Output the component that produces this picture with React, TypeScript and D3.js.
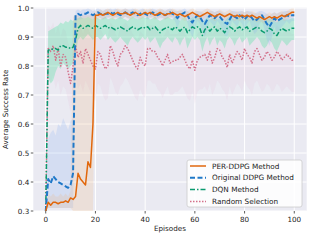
import React from 'react'
import * as d3 from 'd3'

const episodes = d3.range(0, 101)

const perMean = [0.30, 0.33, 0.32, 0.33, 0.33, 0.325, 0.33, 0.33, 0.335, 0.33, 0.345, 0.34, 0.35, 0.43, 0.41, 0.40, 0.39, 0.47, 0.45, 0.60, 0.975,
  0.975, 0.98, 0.975, 0.98, 0.985, 0.98, 0.975, 0.98, 0.985, 0.98, 0.98, 0.985, 0.98, 0.975, 0.98, 0.985, 0.98, 0.975, 0.98, 0.985,
  0.98, 0.985, 0.98, 0.975, 0.98, 0.985, 0.98, 0.975, 0.98, 0.98, 0.985, 0.98, 0.975, 0.98, 0.975, 0.97, 0.975, 0.98, 0.985, 0.98,
  0.975, 0.97, 0.975, 0.98, 0.985, 0.98, 0.975, 0.97, 0.975, 0.98, 0.975, 0.97, 0.975, 0.98, 0.975, 0.97, 0.975, 0.97, 0.975, 0.97,
  0.975, 0.97, 0.975, 0.97, 0.965, 0.97, 0.965, 0.96, 0.965, 0.97, 0.965, 0.97, 0.965, 0.97, 0.975, 0.97, 0.975, 0.98, 0.985, 0.985]
const perLow = [0.30, 0.31, 0.31, 0.31, 0.31, 0.31, 0.31, 0.31, 0.31, 0.31, 0.31, 0.30, 0.30, 0.30, 0.30, 0.30, 0.30, 0.30, 0.30, 0.30, 0.96,
  0.96, 0.965, 0.96, 0.965, 0.97, 0.965, 0.96, 0.965, 0.97, 0.965, 0.965, 0.97, 0.965, 0.96, 0.965, 0.97, 0.965, 0.96, 0.965, 0.97,
  0.965, 0.97, 0.965, 0.96, 0.965, 0.97, 0.965, 0.96, 0.965, 0.965, 0.97, 0.965, 0.96, 0.965, 0.96, 0.955, 0.96, 0.965, 0.97, 0.965,
  0.96, 0.955, 0.96, 0.965, 0.97, 0.965, 0.96, 0.955, 0.96, 0.965, 0.96, 0.955, 0.96, 0.965, 0.96, 0.955, 0.96, 0.955, 0.96, 0.955,
  0.96, 0.955, 0.96, 0.955, 0.95, 0.955, 0.95, 0.945, 0.95, 0.955, 0.95, 0.955, 0.95, 0.955, 0.96, 0.955, 0.96, 0.965, 0.97, 0.97]
const perHigh = [0.30, 0.36, 0.35, 0.36, 0.35, 0.35, 0.36, 0.35, 0.36, 0.35, 0.37, 0.97, 0.975, 0.975, 0.975, 0.975, 0.975, 0.975, 0.975, 0.98, 0.99,
  0.99, 0.995, 0.99, 0.995, 0.998, 0.995, 0.99, 0.995, 0.998, 0.995, 0.995, 0.998, 0.995, 0.99, 0.995, 0.998, 0.995, 0.99, 0.995, 0.998,
  0.995, 0.998, 0.995, 0.99, 0.995, 0.998, 0.995, 0.99, 0.995, 0.995, 0.998, 0.995, 0.99, 0.995, 0.99, 0.985, 0.99, 0.995, 0.998, 0.995,
  0.99, 0.985, 0.99, 0.995, 0.998, 0.995, 0.99, 0.985, 0.99, 0.995, 0.99, 0.985, 0.99, 0.995, 0.99, 0.985, 0.99, 0.985, 0.99, 0.985,
  0.99, 0.985, 0.99, 0.985, 0.98, 0.985, 0.98, 0.975, 0.98, 0.985, 0.98, 0.985, 0.98, 0.985, 0.99, 0.985, 0.99, 0.995, 0.998, 0.998]

const ddpgMean = [0.30, 0.41, 0.395, 0.42, 0.41, 0.40, 0.395, 0.39, 0.385, 0.38, 0.39, 0.43, 0.975, 0.98, 0.975, 0.98, 0.98, 0.985, 0.98, 0.975, 0.98,
  0.985, 0.98, 0.975, 0.98, 0.98, 0.985, 0.98, 0.985, 0.98, 0.975, 0.98, 0.985, 0.98, 0.98, 0.985, 0.98, 0.975, 0.98, 0.985, 0.98,
  0.975, 0.98, 0.985, 0.98, 0.975, 0.98, 0.98, 0.975, 0.98, 0.985, 0.98, 0.975, 0.965, 0.975, 0.98, 0.985, 0.975, 0.96, 0.95, 0.965,
  0.975, 0.97, 0.955, 0.945, 0.96, 0.975, 0.97, 0.965, 0.975, 0.97, 0.96, 0.95, 0.945, 0.96, 0.975, 0.97, 0.965, 0.975, 0.97, 0.96,
  0.97, 0.975, 0.965, 0.955, 0.96, 0.97, 0.975, 0.96, 0.945, 0.935, 0.95, 0.965, 0.955, 0.96, 0.965, 0.97, 0.975, 0.97, 0.975, 0.975]
const ddpgLow = [0.30, 0.31, 0.31, 0.31, 0.31, 0.31, 0.31, 0.31, 0.31, 0.31, 0.31, 0.31, 0.95, 0.96, 0.96, 0.965, 0.965, 0.97, 0.965, 0.96, 0.965,
  0.97, 0.965, 0.96, 0.965, 0.965, 0.97, 0.965, 0.97, 0.965, 0.96, 0.965, 0.97, 0.965, 0.965, 0.97, 0.965, 0.96, 0.965, 0.97, 0.965,
  0.96, 0.965, 0.97, 0.965, 0.96, 0.965, 0.965, 0.96, 0.965, 0.97, 0.965, 0.955, 0.93, 0.955, 0.965, 0.97, 0.95, 0.92, 0.90, 0.93,
  0.955, 0.945, 0.92, 0.90, 0.925, 0.955, 0.945, 0.935, 0.955, 0.945, 0.925, 0.905, 0.90, 0.925, 0.955, 0.945, 0.935, 0.955, 0.945, 0.925,
  0.945, 0.955, 0.93, 0.91, 0.92, 0.945, 0.955, 0.925, 0.89, 0.87, 0.90, 0.935, 0.915, 0.925, 0.935, 0.945, 0.955, 0.945, 0.955, 0.955]
const ddpgHigh = [0.30, 0.55, 0.57, 0.58, 0.56, 0.60, 0.59, 0.62, 0.60, 0.58, 0.61, 0.62, 0.99, 0.995, 0.99, 0.995, 0.995, 0.998, 0.995, 0.99, 0.995,
  0.998, 0.995, 0.99, 0.995, 0.995, 0.998, 0.995, 0.998, 0.995, 0.99, 0.995, 0.998, 0.995, 0.995, 0.998, 0.995, 0.99, 0.995, 0.998, 0.995,
  0.99, 0.995, 0.998, 0.995, 0.99, 0.995, 0.995, 0.99, 0.995, 0.998, 0.995, 0.99, 0.99, 0.99, 0.995, 0.998, 0.99, 0.985, 0.985, 0.99,
  0.99, 0.99, 0.985, 0.98, 0.985, 0.99, 0.99, 0.985, 0.99, 0.99, 0.985, 0.98, 0.98, 0.985, 0.99, 0.99, 0.985, 0.99, 0.99, 0.985,
  0.99, 0.99, 0.985, 0.98, 0.985, 0.99, 0.99, 0.985, 0.98, 0.975, 0.98, 0.985, 0.98, 0.985, 0.985, 0.99, 0.99, 0.99, 0.99, 0.99]

const dqnMean = [0.30, 0.855, 0.855, 0.86, 0.86, 0.855, 0.87, 0.87, 0.865, 0.865, 0.86, 0.865, 0.89, 0.93, 0.94, 0.93, 0.935, 0.94, 0.935, 0.93, 0.94,
  0.935, 0.93, 0.935, 0.94, 0.93, 0.935, 0.93, 0.925, 0.93, 0.935, 0.93, 0.925, 0.92, 0.93, 0.935, 0.93, 0.925, 0.93, 0.935, 0.93,
  0.935, 0.925, 0.93, 0.935, 0.925, 0.915, 0.925, 0.93, 0.935, 0.93, 0.925, 0.935, 0.93, 0.92, 0.93, 0.935, 0.915, 0.925, 0.935, 0.93,
  0.935, 0.93, 0.905, 0.925, 0.935, 0.92, 0.93, 0.935, 0.92, 0.93, 0.925, 0.915, 0.93, 0.935, 0.93, 0.92, 0.93, 0.935, 0.925, 0.93,
  0.935, 0.92, 0.925, 0.93, 0.935, 0.93, 0.92, 0.915, 0.92, 0.93, 0.925, 0.91, 0.905, 0.92, 0.93, 0.925, 0.92, 0.925, 0.93, 0.93]
const dqnLow = [0.30, 0.76, 0.74, 0.75, 0.78, 0.80, 0.79, 0.81, 0.80, 0.79, 0.80, 0.81, 0.84, 0.89, 0.90, 0.89, 0.90, 0.91, 0.90, 0.89, 0.90,
  0.90, 0.89, 0.90, 0.91, 0.89, 0.90, 0.89, 0.88, 0.89, 0.90, 0.89, 0.88, 0.87, 0.89, 0.90, 0.89, 0.88, 0.89, 0.90, 0.89,
  0.90, 0.88, 0.89, 0.90, 0.88, 0.86, 0.88, 0.89, 0.90, 0.89, 0.88, 0.90, 0.89, 0.87, 0.89, 0.90, 0.86, 0.88, 0.90, 0.89,
  0.90, 0.89, 0.85, 0.88, 0.90, 0.87, 0.89, 0.90, 0.87, 0.89, 0.88, 0.86, 0.89, 0.90, 0.89, 0.87, 0.89, 0.90, 0.88, 0.89,
  0.90, 0.87, 0.88, 0.89, 0.90, 0.89, 0.87, 0.86, 0.87, 0.89, 0.88, 0.86, 0.85, 0.87, 0.89, 0.88, 0.87, 0.88, 0.89, 0.89]
const dqnHigh = [0.30, 0.92, 0.925, 0.93, 0.935, 0.94, 0.95, 0.945, 0.955, 0.95, 0.96, 0.955, 0.965, 0.965, 0.97, 0.965, 0.965, 0.97, 0.965, 0.96, 0.97,
  0.965, 0.96, 0.965, 0.97, 0.96, 0.965, 0.965, 0.96, 0.965, 0.97, 0.965, 0.96, 0.955, 0.965, 0.97, 0.965, 0.96, 0.965, 0.97, 0.965,
  0.97, 0.96, 0.965, 0.97, 0.96, 0.955, 0.96, 0.965, 0.97, 0.965, 0.96, 0.97, 0.965, 0.955, 0.965, 0.97, 0.955, 0.96, 0.97, 0.965,
  0.97, 0.965, 0.95, 0.96, 0.97, 0.96, 0.965, 0.97, 0.96, 0.965, 0.96, 0.955, 0.965, 0.97, 0.965, 0.96, 0.965, 0.97, 0.96, 0.965,
  0.97, 0.96, 0.96, 0.965, 0.97, 0.965, 0.96, 0.955, 0.96, 0.965, 0.96, 0.955, 0.95, 0.96, 0.965, 0.96, 0.96, 0.96, 0.965, 0.965]

const randMean = [0.30, 0.86, 0.85, 0.87, 0.82, 0.86, 0.80, 0.84, 0.83, 0.78, 0.74, 0.80, 0.87, 0.83, 0.85, 0.81, 0.86, 0.84, 0.82, 0.80, 0.79,
  0.85, 0.84, 0.81, 0.79, 0.80, 0.87, 0.85, 0.82, 0.80, 0.84, 0.85, 0.87, 0.86, 0.84, 0.82, 0.80, 0.79, 0.83, 0.81, 0.80,
  0.86, 0.86, 0.85, 0.85, 0.83, 0.82, 0.80, 0.82, 0.84, 0.81, 0.815, 0.82, 0.82, 0.83, 0.84, 0.82, 0.80, 0.79, 0.82, 0.785,
  0.82, 0.83, 0.835, 0.84, 0.82, 0.85, 0.81, 0.83, 0.86, 0.855, 0.83, 0.82, 0.795, 0.84, 0.81, 0.83, 0.85, 0.84, 0.82, 0.86,
  0.84, 0.83, 0.81, 0.85, 0.86, 0.84, 0.82, 0.83, 0.85, 0.84, 0.82, 0.83, 0.85, 0.84, 0.82, 0.83, 0.84, 0.83, 0.82, 0.82]
const randLow = [0.30, 0.76, 0.74, 0.77, 0.72, 0.75, 0.70, 0.73, 0.72, 0.68, 0.64, 0.70, 0.76, 0.72, 0.74, 0.71, 0.75, 0.73, 0.71, 0.69, 0.68,
  0.74, 0.73, 0.70, 0.68, 0.69, 0.76, 0.74, 0.71, 0.70, 0.73, 0.74, 0.76, 0.75, 0.73, 0.71, 0.69, 0.68, 0.72, 0.70, 0.69,
  0.75, 0.75, 0.74, 0.74, 0.72, 0.71, 0.69, 0.71, 0.73, 0.70, 0.70, 0.71, 0.71, 0.72, 0.73, 0.71, 0.69, 0.68, 0.71, 0.67,
  0.71, 0.72, 0.72, 0.73, 0.71, 0.74, 0.70, 0.72, 0.75, 0.74, 0.72, 0.71, 0.68, 0.73, 0.70, 0.72, 0.74, 0.73, 0.71, 0.75,
  0.73, 0.72, 0.70, 0.74, 0.75, 0.73, 0.71, 0.72, 0.74, 0.73, 0.71, 0.72, 0.74, 0.73, 0.71, 0.72, 0.73, 0.72, 0.71, 0.71]
const randHigh = [0.30, 0.94, 0.93, 0.95, 0.91, 0.94, 0.90, 0.93, 0.92, 0.88, 0.86, 0.90, 0.95, 0.92, 0.94, 0.91, 0.94, 0.93, 0.91, 0.90, 0.89,
  0.94, 0.93, 0.91, 0.89, 0.90, 0.95, 0.94, 0.91, 0.90, 0.93, 0.94, 0.95, 0.94, 0.93, 0.91, 0.90, 0.89, 0.92, 0.91, 0.90,
  0.94, 0.94, 0.94, 0.94, 0.92, 0.91, 0.90, 0.91, 0.93, 0.91, 0.91, 0.91, 0.91, 0.92, 0.93, 0.91, 0.90, 0.89, 0.91, 0.89,
  0.91, 0.92, 0.92, 0.93, 0.91, 0.94, 0.91, 0.92, 0.94, 0.94, 0.92, 0.91, 0.89, 0.93, 0.91, 0.92, 0.94, 0.93, 0.91, 0.94,
  0.93, 0.92, 0.91, 0.94, 0.94, 0.93, 0.91, 0.92, 0.94, 0.93, 0.91, 0.92, 0.94, 0.93, 0.91, 0.92, 0.93, 0.92, 0.91, 0.91]

const xTicks = [0, 20, 40, 60, 80, 100]
const yTicks = [0.3, 0.4, 0.5, 0.6, 0.7, 0.8, 0.9, 1.0]

const series = [
  { name: 'PER-DDPG Method', mean: perMean, low: perLow, high: perHigh, color: '#E1670C', band: '#F2B27A', bandOpacity: 0.2, dash: '', width: 1.5 },
  { name: 'Original DDPG Method', mean: ddpgMean, low: ddpgLow, high: ddpgHigh, color: '#1F78C8', band: '#8AB0F2', bandOpacity: 0.22, dash: '5,2.5', width: 2 },
  { name: 'DQN Method', mean: dqnMean, low: dqnLow, high: dqnHigh, color: '#0A9A70', band: '#4AE3A0', bandOpacity: 0.32, dash: '5,2,1.5,2', width: 1.5 },
  { name: 'Random Selection', mean: randMean, low: randLow, high: randHigh, color: '#D3708A', band: '#E2B4D6', bandOpacity: 0.14, dash: '1.5,1.5', width: 1.5 },
]

const W = 312
const H = 240
const left = 33.3
const right = 306.7
const top = 7.5
const bottom = 211
const font = 'DejaVu Sans, sans-serif'

export default function App() {
  const x = d3.scaleLinear().domain([-5, 105]).range([left, right])
  const y = d3.scaleLinear().domain([0.3, 1.0]).range([bottom, 8])

  const line = (vals: number[]) =>
    d3.line<number>().x((_, i) => x(episodes[i])).y(d => y(d))(vals) || ''
  const area = (lo: number[], hi: number[]) =>
    d3.area<number>().x((_, i) => x(episodes[i])).y0((_, i) => y(lo[i])).y1((_, i) => y(hi[i]))(lo) || ''

  // bands under everything, then random, dqn, ddpg, per on top
  const drawOrder = [3, 2, 1, 0]

  return (
    <svg width={W} height={H} style={{ position: 'absolute', left: 0, top: 0, background: '#fff' }} fontFamily={font}>
      <defs>
        <clipPath id="plot">
          <rect x={left} y={top} width={right - left} height={bottom - top} />
        </clipPath>
      </defs>
      <rect x={left} y={top} width={right - left} height={bottom - top} fill="#EAEAF2" />
      {xTicks.map(t => (
        <line key={'gx' + t} x1={x(t)} x2={x(t)} y1={top} y2={bottom} stroke="#fff" strokeWidth={1} />
      ))}
      {yTicks.map(t => (
        <line key={'gy' + t} x1={left} x2={right} y1={y(t)} y2={y(t)} stroke="#fff" strokeWidth={1} />
      ))}
      <g clipPath="url(#plot)">
        {drawOrder.map(i => (
          <path key={'b' + i} d={area(series[i].low, series[i].high)} fill={series[i].band} fillOpacity={series[i].bandOpacity} />
        ))}
        {drawOrder.map(i => (
          <path key={'l' + i} d={line(series[i].mean)} fill="none" stroke={series[i].color}
            strokeWidth={series[i].width} strokeDasharray={series[i].dash || undefined} strokeLinejoin="round" />
        ))}
      </g>
      {yTicks.map(t => (
        <g key={'ty' + t}>
          <line x1={left - 2.5} x2={left} y1={y(t)} y2={y(t)} stroke="#333" strokeWidth={0.8} />
          <text x={left - 4} y={y(t)} dy="0.35em" textAnchor="end" fontSize={7.2} fill="#222">{t.toFixed(1)}</text>
        </g>
      ))}
      {xTicks.map(t => (
        <g key={'tx' + t}>
          <line x1={x(t)} x2={x(t)} y1={bottom} y2={bottom + 2.5} stroke="#333" strokeWidth={0.8} />
          <text x={x(t)} y={bottom + 11} textAnchor="middle" fontSize={7.2} fill="#222">{t}</text>
        </g>
      ))}
      <text x={(left + right) / 2} y={231} textAnchor="middle" fontSize={7.2} fill="#222">Episodes</text>
      <text transform={`translate(8,${(top + bottom) / 2}) rotate(-90)`} textAnchor="middle" fontSize={7.2} fill="#222">Average Success Rate</text>
      <g transform="translate(187,160)">
        <rect x={0} y={0} width={115} height={47} rx={2} fill="#fff" fillOpacity={0.85} stroke="#ccc" strokeWidth={0.8} />
        {series.map((s, i) => (
          <g key={'lg' + i} transform={`translate(0,${6 + i * 11.8})`}>
            <line x1={3} x2={19} y1={0} y2={0} stroke={s.color} strokeWidth={s.width} strokeDasharray={s.dash || undefined} />
            <text x={25} y={0} dy="0.35em" fontSize={7.3} fill="#222">{s.name}</text>
          </g>
        ))}
      </g>
    </svg>
  )
}
